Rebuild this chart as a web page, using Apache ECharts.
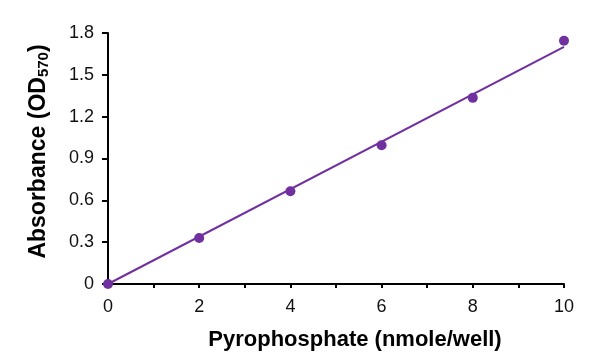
<!DOCTYPE html>
<html><head><meta charset="utf-8">
<script src="https://cdn.jsdelivr.net/npm/echarts@6/dist/echarts.min.js"></script>
<style>html,body{margin:0;padding:0;background:#fff}#c{width:600px;height:361px}</style>
</head><body><div id="c"></div>
<script>
const xValues = [0, 2, 4, 6, 8, 10];
const absorbance = [0, 0.33, 0.665, 0.995, 1.335, 1.745];
const trendX = [0, 10];
const trendY = [0, 1.70];
const yTicks = [0, 0.3, 0.6, 0.9, 1.2, 1.5, 1.8];

const chart = echarts.init(document.getElementById('c'));
const font = 'Liberation Sans, Arial, sans-serif';
chart.setOption({
  animation: false,
  grid: {left: 108, right: 36, top: 33, bottom: 77},
  xAxis: {
    type: 'value', min: 0, max: 10, interval: 1,
    name: 'Pyrophosphate (nmole/well)', nameLocation: 'middle', nameGap: 45,
    nameTextStyle: {fontFamily: font, fontSize: 22, fontWeight: 'bold', color: '#000', padding: [0, 0, 0, 38]},
    axisLine: {lineStyle: {color: '#000', width: 2}},
    axisTick: {show: true, inside: false, length: 4, lineStyle: {color: '#000', width: 2}},
    axisLabel: {fontFamily: font, fontSize: 18, color: '#111', margin: 14,
      formatter: v => (v % 2 === 0 ? String(v) : '')},
    splitLine: {show: false}
  },
  yAxis: {
    type: 'value', min: 0, max: 1.8, interval: 0.3,
    name: 'Absorbance (OD{sub|570})', nameLocation: 'middle', nameGap: 57,
    nameTextStyle: {fontFamily: font, fontSize: 23, fontWeight: 'bold', color: '#000', padding: [0, 0, 0, 14],
      rich: {sub: {fontFamily: font, fontSize: 15, fontWeight: 'bold', color: '#000', padding: [9, 0, 0, 0]}}},
    axisLine: {show: true, lineStyle: {color: '#000', width: 2}},
    axisTick: {show: true, inside: false, length: 6, lineStyle: {color: '#000', width: 2}},
    axisLabel: {fontFamily: font, fontSize: 18, color: '#111', margin: 14,
      formatter: v => { const t = yTicks.find(k => Math.abs(k - v) < 1e-6); return t === undefined ? '' : String(t); }},
    splitLine: {show: false}
  },
  series: [
    {type: 'line', data: trendX.map((x, i) => [x, trendY[i]]), symbol: 'none',
     lineStyle: {color: '#7030A0', width: 2}, z: 2},
    {type: 'scatter', data: xValues.map((x, i) => [x, absorbance[i]]), symbol: 'circle', symbolSize: 10,
     itemStyle: {color: '#7030A0', opacity: 1}, z: 3}
  ]
});
</script></body></html>
